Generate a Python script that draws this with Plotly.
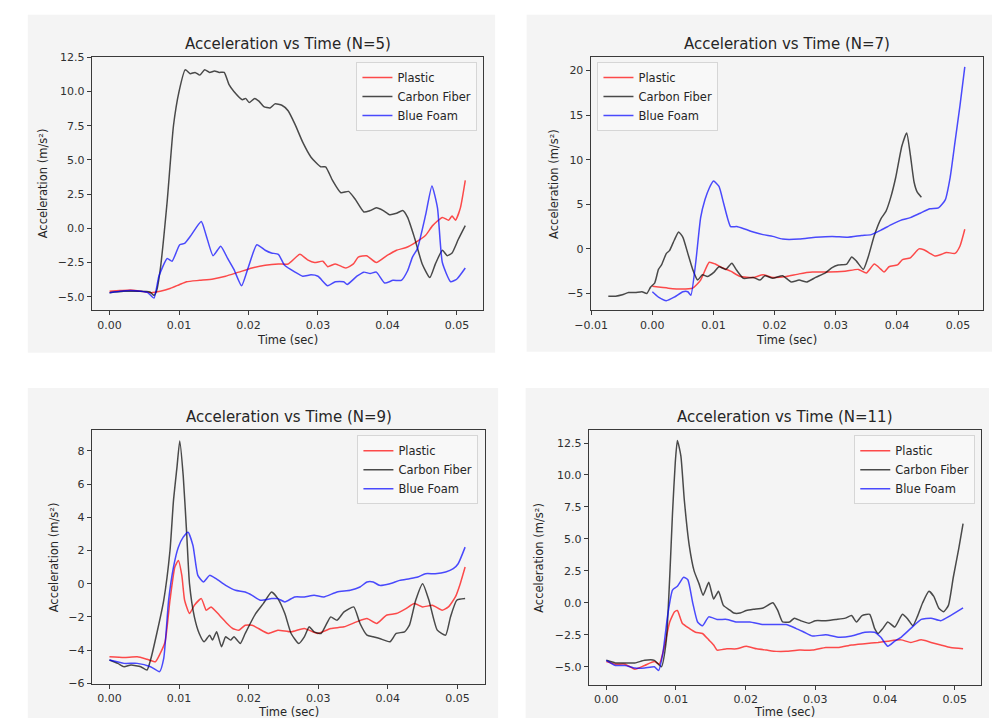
import plotly.graph_objects as go

# ---------------- DATA ----------------
# N=5
n5_plastic_t = [0.0, 0.0015, 0.003, 0.0045, 0.006, 0.0073, 0.0087, 0.0101, 0.0111, 0.013, 0.0149, 0.0167, 0.0186, 0.0205, 0.0224, 0.0243, 0.0257, 0.0274, 0.0285, 0.0295, 0.0307, 0.0314, 0.0325, 0.034, 0.0351, 0.0358, 0.037, 0.0384, 0.0399, 0.0413, 0.0427, 0.0441, 0.0455, 0.0465, 0.0479, 0.0488, 0.0493, 0.0498, 0.0505, 0.0512]
n5_plastic_a = [-4.6, -4.55, -4.5, -4.6, -4.7, -4.6, -4.4, -4.1, -3.9, -3.8, -3.7, -3.5, -3.2, -2.9, -2.7, -2.6, -2.6, -1.9, -2.3, -2.5, -2.4, -2.8, -2.6, -2.9, -2.6, -2.1, -2.0, -2.5, -2.0, -1.6, -1.4, -1.0, -0.5, 0.2, 0.8, 0.6, 0.9, 0.6, 1.5, 3.5]
n5_carbon_t = [0.0, 0.002, 0.004, 0.0058, 0.0064, 0.0068, 0.0073, 0.0083, 0.0092, 0.0100, 0.0109, 0.0116, 0.0123, 0.013, 0.0137, 0.0144, 0.0151, 0.0158, 0.0165, 0.0172, 0.0179, 0.0191, 0.0196, 0.0201, 0.0209, 0.0215, 0.0222, 0.0231, 0.0238, 0.0248, 0.0257, 0.0267, 0.0278, 0.029, 0.0304, 0.0311, 0.0321, 0.0333, 0.0344, 0.0354, 0.0366, 0.0375, 0.0384, 0.0394, 0.0403, 0.0413, 0.0422, 0.0429, 0.0439, 0.045, 0.0461, 0.0469, 0.0479, 0.0486, 0.0493, 0.0502, 0.0512]
n5_carbon_a = [-4.7, -4.6, -4.6, -4.65, -4.9, -4.5, -3.0, 2.0, 7.5, 10.0, 11.6, 11.3, 11.4, 11.2, 11.6, 11.4, 11.5, 11.4, 11.4, 10.5, 10.0, 9.4, 9.5, 9.2, 9.5, 9.3, 8.9, 8.8, 9.1, 9.0, 8.6, 7.6, 6.3, 5.2, 4.5, 4.5, 3.5, 2.6, 2.7, 2.1, 1.2, 1.3, 1.5, 1.3, 1.0, 1.1, 1.3, 0.8, -0.7, -2.6, -3.6, -2.6, -1.6, -2.0, -1.8, -0.8, 0.2]
n5_foam_t = [0.0, 0.0015, 0.003, 0.0045, 0.0055, 0.0064, 0.0071, 0.0083, 0.009, 0.0101, 0.0108, 0.0116, 0.0132, 0.0139, 0.0149, 0.016, 0.017, 0.0179, 0.019, 0.02, 0.0212, 0.0224, 0.0233, 0.0243, 0.0252, 0.0267, 0.0278, 0.029, 0.03, 0.0314, 0.0325, 0.0337, 0.0342, 0.0356, 0.0366, 0.0375, 0.0384, 0.0396, 0.0408, 0.042, 0.0429, 0.0436, 0.0443, 0.0455, 0.0464, 0.0472, 0.0479, 0.0491, 0.05, 0.0512]
n5_foam_a = [-4.7, -4.6, -4.55, -4.6, -4.7, -5.1, -3.5, -2.2, -2.4, -1.2, -1.1, -0.6, 0.5, -0.5, -2.0, -1.3, -2.2, -3.0, -4.2, -2.8, -1.2, -1.6, -1.8, -1.9, -2.7, -3.2, -3.5, -3.4, -3.5, -4.2, -3.9, -3.9, -4.1, -3.5, -3.2, -3.3, -3.2, -4.0, -3.8, -3.8, -3.1, -2.1, -1.5, 1.0, 3.1, 1.5, -2.5, -3.9, -3.7, -2.9]

# N=7
n7_plastic_t = [0.0, 0.0026, 0.0047, 0.0066, 0.0079, 0.0093, 0.0103, 0.0114, 0.0128, 0.0144, 0.0165, 0.0181, 0.0197, 0.0219, 0.024, 0.0262, 0.0288, 0.0315, 0.0337, 0.035, 0.0363, 0.0374, 0.0379, 0.0387, 0.0401, 0.0409, 0.0422, 0.0436, 0.0444, 0.0454, 0.0462, 0.0473, 0.0481, 0.0495, 0.0503, 0.0511]
n7_plastic_a = [-4.2, -4.4, -4.5, -4.4, -3.5, -1.5, -1.7, -2.1, -2.5, -3.1, -3.2, -2.9, -3.2, -3.1, -2.8, -2.6, -2.6, -2.5, -2.3, -2.7, -1.7, -2.3, -2.6, -2.0, -1.8, -1.2, -1.0, 0.0, -0.1, -0.5, -0.8, -0.6, -0.4, -0.5, 0.3, 2.2]
n7_carbon_t = [-0.0072, -0.006, -0.0049, -0.0039, -0.0028, -0.0017, -0.0009, -0.0003, 0.0004, 0.001, 0.0015, 0.0023, 0.0028, 0.0036, 0.0043, 0.005, 0.0058, 0.0066, 0.0074, 0.0082, 0.009, 0.0101, 0.0109, 0.012, 0.013, 0.0138, 0.0149, 0.0165, 0.0176, 0.0184, 0.0197, 0.0213, 0.0227, 0.024, 0.0253, 0.0267, 0.0283, 0.0294, 0.0304, 0.0318, 0.0326, 0.0334, 0.0345, 0.0353, 0.0363, 0.0374, 0.0382, 0.039, 0.0398, 0.0408, 0.0416, 0.0422, 0.0428, 0.0433, 0.044]
n7_carbon_a = [-5.3, -5.3, -5.15, -4.9, -4.9, -4.8, -5.0, -4.3, -3.8, -2.3, -1.8, -0.5, -0.2, 1.0, 1.9, 1.3, -0.5, -2.3, -3.5, -2.9, -3.1, -2.6, -2.0, -2.3, -1.6, -2.4, -3.3, -3.2, -3.5, -3.0, -3.3, -3.0, -3.7, -3.5, -3.7, -3.2, -2.7, -2.1, -1.8, -1.7, -0.9, -1.4, -2.3, -0.9, 1.5, 3.4, 4.2, 5.8, 8.0, 11.5, 13.0, 10.5, 7.5, 6.4, 5.8]
n7_foam_t = [0.0, 0.001, 0.0023, 0.0036, 0.005, 0.0058, 0.0063, 0.0071, 0.0079, 0.0086, 0.0093, 0.0100, 0.0109, 0.0117, 0.0128, 0.0138, 0.0152, 0.0165, 0.0181, 0.0197, 0.0213, 0.024, 0.0267, 0.0294, 0.032, 0.0342, 0.0358, 0.0374, 0.039, 0.0406, 0.0422, 0.0438, 0.0454, 0.0468, 0.0479, 0.0487, 0.0495, 0.0503, 0.0511]
n7_foam_a = [-4.8, -5.4, -5.8, -5.4, -4.8, -4.8, -5.2, -1.5, 3.5, 5.5, 6.8, 7.6, 7.0, 5.0, 2.5, 2.5, 2.2, 1.9, 1.6, 1.4, 1.1, 1.1, 1.3, 1.4, 1.3, 1.5, 1.6, 2.1, 2.7, 3.2, 3.5, 4.0, 4.5, 4.6, 5.5, 8.0, 12.0, 16.0, 20.4]

# N=9
n9_plastic_t = [0.0, 0.0021, 0.004, 0.0054, 0.0066, 0.0073, 0.008, 0.0087, 0.0094, 0.0099, 0.0104, 0.0108, 0.0115, 0.0122, 0.0132, 0.0139, 0.0146, 0.0158, 0.0169, 0.0177, 0.0186, 0.0195, 0.0205, 0.0214, 0.0228, 0.0242, 0.0261, 0.028, 0.0299, 0.0318, 0.0337, 0.0355, 0.037, 0.0384, 0.0398, 0.0412, 0.0426, 0.0438, 0.045, 0.0464, 0.0478, 0.0487, 0.0497, 0.0504, 0.0511]
n9_plastic_a = [-4.4, -4.45, -4.4, -4.55, -4.7, -4.2, -3.5, -1.0, 1.0, 1.4, 0.5, -1.0, -1.8, -1.3, -0.9, -1.6, -1.4, -1.9, -2.4, -2.7, -2.8, -2.5, -2.5, -2.7, -3.0, -2.8, -2.9, -2.7, -3.0, -2.7, -2.6, -2.3, -2.1, -2.4, -1.9, -1.8, -1.5, -1.2, -1.4, -1.3, -1.6, -1.4, -0.8, 0.0, 1.0]
n9_carbon_t = [0.0, 0.0012, 0.0021, 0.0031, 0.0045, 0.0054, 0.0059, 0.0068, 0.0078, 0.0087, 0.0092, 0.0097, 0.0101, 0.0106, 0.0111, 0.0115, 0.0122, 0.0129, 0.0136, 0.0144, 0.0148, 0.0154, 0.0161, 0.0167, 0.0174, 0.0179, 0.0188, 0.0195, 0.021, 0.0221, 0.0233, 0.0242, 0.0252, 0.0261, 0.0272, 0.028, 0.0287, 0.0294, 0.0304, 0.0311, 0.0318, 0.0327, 0.0337, 0.0351, 0.036, 0.037, 0.0379, 0.0388, 0.0403, 0.0412, 0.0424, 0.0431, 0.044, 0.045, 0.0459, 0.0471, 0.0483, 0.049, 0.0499, 0.0511]
n9_carbon_a = [-4.6, -4.8, -5.0, -4.9, -5.0, -5.2, -4.6, -3.0, -1.0, 2.0, 5.0, 7.0, 8.6, 6.5, 3.0, 0.0, -2.0, -3.0, -3.5, -3.1, -3.4, -2.9, -3.8, -3.2, -3.4, -3.2, -3.6, -3.0, -1.8, -1.2, -0.5, -0.9, -1.8, -3.0, -3.6, -3.2, -2.6, -2.9, -3.0, -2.5, -2.0, -2.2, -1.7, -1.4, -2.4, -3.1, -3.2, -3.3, -3.5, -3.0, -2.9, -2.5, -1.0, 0.0, -1.0, -2.8, -3.1, -2.0, -1.0, -0.9]
n9_foam_t = [0.0, 0.0021, 0.004, 0.0059, 0.0072, 0.0078, 0.0085, 0.0092, 0.0099, 0.0106, 0.0113, 0.012, 0.0127, 0.0135, 0.0144, 0.0153, 0.0167, 0.0181, 0.0195, 0.0205, 0.0217, 0.0233, 0.0242, 0.0252, 0.0266, 0.028, 0.0294, 0.0308, 0.0327, 0.0346, 0.036, 0.037, 0.0379, 0.0388, 0.0403, 0.0417, 0.0431, 0.0443, 0.0454, 0.0468, 0.0483, 0.0494, 0.0501, 0.0511]
n9_foam_a = [-4.6, -4.8, -4.8, -5.0, -5.3, -4.5, -1.0, 1.0, 2.2, 2.8, 3.1, 2.3, 0.5, 0.1, 0.5, 0.3, -0.1, -0.4, -0.5, -0.7, -1.0, -0.9, -0.9, -1.1, -0.8, -0.8, -0.7, -0.8, -0.5, -0.4, -0.2, 0.1, 0.1, -0.1, 0.0, 0.2, 0.3, 0.4, 0.6, 0.6, 0.7, 0.9, 1.2, 2.2]

# N=11
n11_plastic_t = [0.0, 0.0013, 0.0027, 0.0041, 0.0055, 0.0069, 0.0076, 0.0083, 0.0091, 0.0098, 0.0102, 0.0109, 0.0119, 0.0128, 0.0138, 0.0147, 0.0154, 0.0159, 0.0173, 0.0187, 0.0201, 0.0216, 0.023, 0.0244, 0.0258, 0.0277, 0.0296, 0.0315, 0.0334, 0.0352, 0.0371, 0.039, 0.0404, 0.0423, 0.0437, 0.0452, 0.0466, 0.048, 0.0494, 0.0512]
n11_plastic_a = [-4.6, -4.8, -4.8, -5.2, -4.9, -4.6, -4.8, -3.5, -1.5, -0.7, -0.6, -1.6, -2.0, -2.3, -2.4, -2.9, -3.3, -3.7, -3.6, -3.6, -3.4, -3.6, -3.7, -3.8, -3.8, -3.7, -3.7, -3.5, -3.5, -3.3, -3.2, -3.1, -3.0, -2.9, -3.1, -2.9, -3.1, -3.3, -3.5, -3.6]
n11_carbon_t = [0.0, 0.0013, 0.0027, 0.0041, 0.0055, 0.0069, 0.0079, 0.0086, 0.0091, 0.0095, 0.0099, 0.0102, 0.0107, 0.0112, 0.0119, 0.0126, 0.0133, 0.0139, 0.0147, 0.0154, 0.0161, 0.0168, 0.0178, 0.0183, 0.0192, 0.0201, 0.0211, 0.0225, 0.0239, 0.0246, 0.0253, 0.0263, 0.027, 0.0279, 0.0291, 0.03, 0.0315, 0.0329, 0.0343, 0.0352, 0.0359, 0.0367, 0.0378, 0.0385, 0.039, 0.0397, 0.0404, 0.0414, 0.0425, 0.0433, 0.044, 0.0447, 0.0454, 0.0463, 0.047, 0.0477, 0.0484, 0.0491, 0.0498, 0.0506, 0.0512]
n11_carbon_a = [-4.5, -4.7, -4.7, -4.7, -4.5, -4.5, -5.0, -3.0, 2.0, 7.0, 11.0, 12.7, 11.5, 8.0, 4.5, 2.5, 1.5, 0.6, 1.6, 0.3, 0.9, -0.2, -0.6, -0.8, -0.8, -0.6, -0.5, -0.4, 0.0, -0.6, -1.5, -1.5, -1.2, -1.4, -1.6, -1.4, -1.4, -1.3, -1.2, -1.0, -1.5, -1.0, -0.9, -2.0, -2.4, -2.0, -1.5, -1.9, -0.9, -1.3, -1.8, -1.0, 0.0, 0.9, 0.5, -0.4, -0.7, -0.2, 2.0, 4.3, 6.2]
n11_foam_t = [0.0, 0.0013, 0.0027, 0.0041, 0.0055, 0.0069, 0.0075, 0.0081, 0.0088, 0.0095, 0.0102, 0.0111, 0.0117, 0.0124, 0.0131, 0.0138, 0.0147, 0.0159, 0.0173, 0.0187, 0.0206, 0.0225, 0.0244, 0.0258, 0.0272, 0.0284, 0.0296, 0.0315, 0.0334, 0.0352, 0.0371, 0.0385, 0.0394, 0.0404, 0.0414, 0.0423, 0.0437, 0.0452, 0.0466, 0.048, 0.0494, 0.0512]
n11_foam_a = [-4.5, -4.9, -4.9, -5.1, -5.1, -5.0, -5.3, -4.0, -1.0, 1.0, 1.3, 2.0, 1.8, 0.0, -1.5, -1.8, -1.1, -1.3, -1.3, -1.5, -1.5, -1.7, -1.7, -1.7, -2.0, -2.3, -2.6, -2.5, -2.7, -2.6, -2.3, -2.3, -2.7, -3.4, -3.0, -2.7, -2.0, -1.3, -1.2, -1.4, -1.0, -0.4]

titles = ["Acceleration vs Time (N=5)", "Acceleration vs Time (N=7)",
          "Acceleration vs Time (N=9)", "Acceleration vs Time (N=11)"]
series_names = ["Plastic", "Carbon Fiber", "Blue Foam"]
x_label = "Time (sec)"
y_label = "Acceleration (m/s²)"

panels = [
    [(n5_plastic_t, n5_plastic_a), (n5_carbon_t, n5_carbon_a), (n5_foam_t, n5_foam_a)],
    [(n7_plastic_t, n7_plastic_a), (n7_carbon_t, n7_carbon_a), (n7_foam_t, n7_foam_a)],
    [(n9_plastic_t, n9_plastic_a), (n9_carbon_t, n9_carbon_a), (n9_foam_t, n9_foam_a)],
    [(n11_plastic_t, n11_plastic_a), (n11_carbon_t, n11_carbon_a), (n11_foam_t, n11_foam_a)],
]

# ---------------- LAYOUT (pixel geometry) ----------------
W, H = 992, 725
FONT = "DejaVu Sans"
colors = ["rgba(255,0,0,0.7)", "rgba(0,0,0,0.7)", "rgba(0,0,255,0.7)"]
GREY = "#f4f4f4"

def px(x):
    return x / W

def py(y):
    return 1 - y / H

# plot area boxes: (left, top, right, bottom) in pixels
boxes = [(77, 52, 475, 310), (584, 52, 983, 310), (77, 432, 477, 690), (582, 432, 981, 691)]
bg_boxes = [(12, 9, 487, 353), (519, 9, 992, 352), (12, 389, 490, 725), (518, 389, 989, 725)]
xranges = [[-0.00256, 0.0538], [-0.0101, 0.0541], [-0.00254, 0.054], [-0.00254, 0.0538]]
yranges = [[-6.0, 12.52], [-6.9, 21.5], [-6.02, 9.24], [-6.4, 13.5]]
xticks = [[0, 0.01, 0.02, 0.03, 0.04, 0.05],
          [-0.01, 0, 0.01, 0.02, 0.03, 0.04, 0.05],
          [0, 0.01, 0.02, 0.03, 0.04, 0.05],
          [0, 0.01, 0.02, 0.03, 0.04, 0.05]]
yticks = [[-5.0, -2.5, 0.0, 2.5, 5.0, 7.5, 10.0, 12.5],
          [-5, 0, 5, 10, 15, 20],
          [-6, -4, -2, 0, 2, 4, 6, 8],
          [-5.0, -2.5, 0.0, 2.5, 5.0, 7.5, 10.0, 12.5]]
yfmt = [".1f", "d", "d", ".1f"]
# legend anchor (x, y, xanchor)
legend_pos = [(469, 57, "right"), (591, 57, "left"), (470, 437, "right"), (975, 437, "right")]
title_y = [39, 39, 419, 419]
xlabel_y = [340, 340, 719, 719]
ylabel_x = [27, 547, 39, 532]

fig = go.Figure()
layout = dict(width=W, height=H, autosize=False,
              margin=dict(l=0, r=0, t=0, b=0),
              paper_bgcolor="white", plot_bgcolor=GREY,
              font=dict(family=FONT, size=11, color="#262626"),
              shapes=[], annotations=[])

for i, series in enumerate(panels):
    k = "" if i == 0 else str(i + 1)
    leg = "legend" + k
    for j, (t, a) in enumerate(series):
        fig.add_trace(go.Scatter(x=t, y=a, mode="lines", name=series_names[j],
                                 line=dict(color=colors[j], width=1.5, shape="spline", smoothing=0.5),
                                 xaxis="x" + k, yaxis="y" + k, legend=leg))
    l, tp, r, b = boxes[i]
    layout["xaxis" + k] = dict(domain=[px(l), px(r)], anchor="y" + k, range=xranges[i],
                               tickvals=xticks[i], tickformat=".2f",
                               showgrid=False, zeroline=False, showline=True, mirror=True,
                               linecolor="#3a3a3a", linewidth=1, ticks="outside", ticklen=4,
                               tickcolor="#3a3a3a", tickfont=dict(size=11, color="#303030"))
    layout["yaxis" + k] = dict(domain=[py(b), py(tp)], anchor="x" + k, range=yranges[i],
                               tickvals=yticks[i], tickformat=yfmt[i],
                               showgrid=False, zeroline=False, showline=True, mirror=True,
                               linecolor="#3a3a3a", linewidth=1, ticks="outside", ticklen=4,
                               tickcolor="#3a3a3a", tickfont=dict(size=11, color="#303030"))
    lx, ly, xa = legend_pos[i]
    layout[leg] = dict(x=px(lx), y=py(ly), xanchor=xa, yanchor="top",
                       xref="paper", yref="paper",
                       bgcolor="rgba(248,248,248,0.85)", bordercolor="#d6d6d6", borderwidth=1,
                       font=dict(family=FONT, size=11.5, color="#262626"),
                       itemwidth=30, tracegroupgap=0)
    bl, bt, br, bb = bg_boxes[i]
    layout["shapes"].append(dict(type="rect", xref="paper", yref="paper",
                                 x0=px(bl), x1=px(br), y0=py(bb), y1=py(bt),
                                 fillcolor=GREY, line=dict(width=0), layer="below"))
    cx = px((l + r) / 2)
    layout["annotations"].append(dict(text=titles[i], x=cx, y=py(title_y[i]), xref="paper", yref="paper",
                                      showarrow=False, xanchor="center", yanchor="middle",
                                      font=dict(family=FONT, size=15, color="#262626")))
    layout["annotations"].append(dict(text=x_label, x=cx, y=py(xlabel_y[i]), xref="paper", yref="paper",
                                      showarrow=False, xanchor="center", yanchor="middle",
                                      font=dict(family=FONT, size=11.5, color="#262626")))
    layout["annotations"].append(dict(text=y_label, x=px(ylabel_x[i]), y=py((tp + b) / 2),
                                      xref="paper", yref="paper", textangle=-90,
                                      showarrow=False, xanchor="center", yanchor="middle",
                                      font=dict(family=FONT, size=11.5, color="#262626")))

fig.update_layout(**layout)
fig.write_html("out.html")
